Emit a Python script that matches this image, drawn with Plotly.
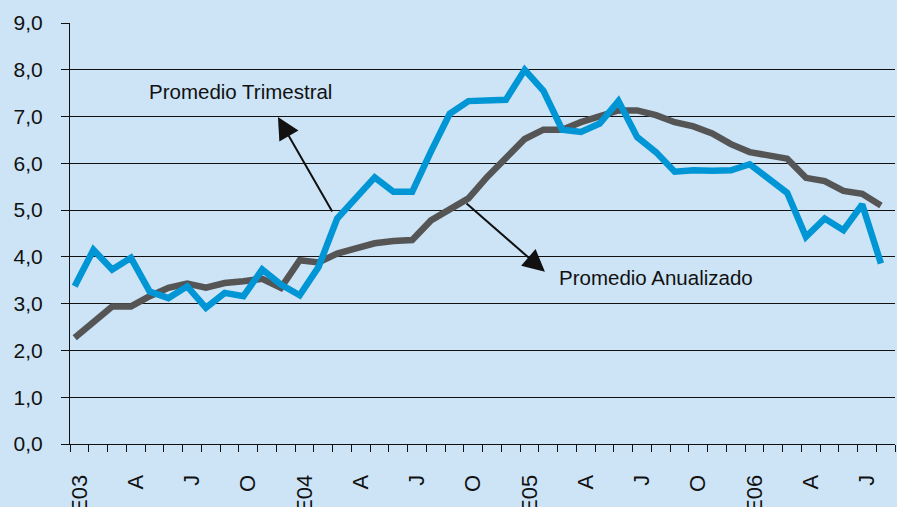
import plotly.graph_objects as go

# monthly series, Jan 2003 .. Aug 2006
month_initials = ["E", "F", "M", "A", "M", "J", "J", "A", "S", "O", "N", "D"]
years = ["03", "04", "05", "06"]
months = [m + y for y in years for m in month_initials][:44]

trimestral = [3.37, 4.15, 3.73, 3.98, 3.26, 3.12, 3.37, 2.91, 3.23, 3.16, 3.73, 3.41,
              3.18, 3.78, 4.82, 5.28, 5.70, 5.39, 5.39, 6.25, 7.06, 7.33, 7.35, 7.36,
              8.00, 7.55, 6.72, 6.67, 6.85, 7.33, 6.56, 6.24, 5.82, 5.85, 5.84, 5.85,
              5.98, 5.67, 5.37, 4.43, 4.82, 4.57, 5.12, 3.86]
anualizado = [2.27, 2.59, 2.94, 2.94, 3.16, 3.34, 3.43, 3.34, 3.44, 3.48, 3.53, 3.34,
              3.93, 3.88, 4.07, 4.18, 4.29, 4.34, 4.36, 4.78, 5.00, 5.25, 5.71, 6.14,
              6.52, 6.72, 6.72, 6.88, 6.99, 7.13, 7.13, 7.03, 6.88, 6.79, 6.64, 6.41,
              6.24, 6.17, 6.10, 5.69, 5.62, 5.41, 5.35, 5.10]

tick_labels = ["E03", "A", "J", "O", "E04", "A", "J", "O", "E05", "A", "J", "O", "E06", "A", "J"]

BG = "#CCE4F6"
FONT = "Arial, Liberation Sans, sans-serif"

x = list(range(len(months)))

fig = go.Figure()
fig.add_trace(go.Scatter(x=x, y=anualizado, mode="lines", name="Promedio Anualizado",
                         line={"color": "#555555", "width": 6.5}, customdata=months))
fig.add_trace(go.Scatter(x=x, y=trimestral, mode="lines", name="Promedio Trimestral",
                         line={"color": "#0096D6", "width": 6.5}, customdata=months))

# labels sit centred between the category boundary ticks
label_pos = [i * 3 + 0.25 for i in range(len(tick_labels))]
boundaries = [k - 0.25 for k in range(len(months) + 1)]

fig.update_xaxes(
    range=[-0.25, len(months) - 0.25],
    automargin=False,
    tickmode="array",
    tickvals=label_pos,
    ticktext=tick_labels,
    tickangle=-90,
    ticks="outside",
    ticklen=7,
    tickcolor="rgba(0,0,0,0)",
    ticklabelstandoff=14,
    tickfont={"size": 22, "color": "#111111", "family": FONT},
    minor={"tickmode": "array", "tickvals": boundaries, "ticks": "outside",
           "ticklen": 7, "tickcolor": "#111111", "tickwidth": 1, "showgrid": False},
    showgrid=False,
    showline=True,
    linecolor="#111111",
    linewidth=1,
    zeroline=False,
)
fig.update_yaxes(
    range=[0, 9],
    automargin=False,
    tickmode="linear",
    tick0=0,
    dtick=1,
    tickformat=".1f",
    ticks="outside",
    ticklen=8,
    tickcolor="#111111",
    ticklabelstandoff=14,
    tickfont={"size": 21, "color": "#111111", "family": FONT},
    showgrid=True,
    gridcolor="#111111",
    gridwidth=1,
    showline=True,
    linecolor="#111111",
    linewidth=1,
    zeroline=False,
)

arrow = {"showarrow": True, "arrowhead": 2, "arrowsize": 2.2, "arrowwidth": 2,
         "arrowcolor": "#111111", "axref": "x", "ayref": "y", "text": "",
         "standoff": 0, "startstandoff": 0}
fig.add_annotation(x=10.84, y=6.99, ax=13.78, ay=4.94, **arrow)
fig.add_annotation(x=25.08, y=3.68, ax=20.82, ay=5.17, **arrow)
fig.add_annotation(x=8.82, y=7.54, text="Promedio Trimestral", showarrow=False,
                   font={"size": 20.5, "color": "#111111", "family": FONT})
fig.add_annotation(x=31.0, y=3.55, text="Promedio Anualizado", showarrow=False,
                   font={"size": 20.5, "color": "#111111", "family": FONT})

fig.update_layout(
    width=897,
    height=507,
    margin={"l": 70, "r": 2, "t": 23, "b": 63},
    paper_bgcolor=BG,
    plot_bgcolor=BG,
    showlegend=False,
    separators=",.",
    font={"family": FONT},
)

# drop the default page margin so the figure sits at the window's corner
fig.write_html("out.html",
               config={"displayModeBar": False},
               post_script="document.body.style.margin='0';document.body.style.overflow='hidden';")
